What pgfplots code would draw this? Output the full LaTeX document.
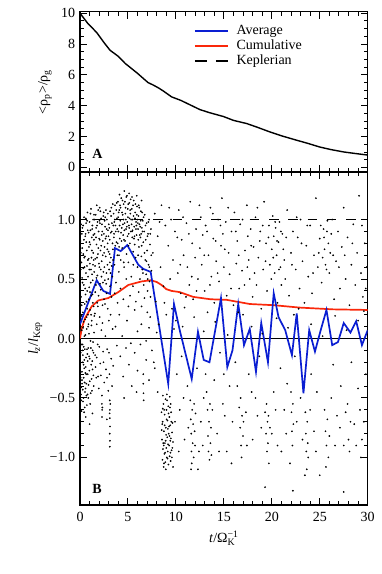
\documentclass[border=0pt]{standalone}
\usepackage{pgfplots}
\usepackage{pgfplotstable}
\pgfplotsset{compat=1.18}
\usepackage{amsmath}
\usepackage{fontspec}
\setmainfont{Liberation Serif}
\definecolor{avgblue}{RGB}{10,30,210}
\definecolor{cumred}{RGB}{250,40,10}

\pgfplotstableread[row sep=\\]{
t v\\
0 10.0\\ 0.8 9.35\\ 1.74 8.75\\ 2.5 8.1\\ 3.13 7.6\\ 4.0 7.2\\ 4.7 6.75\\ 5.4 6.4\\ 6.0 6.1\\ 6.6 5.77\\ 7.1 5.5\\ 7.64 5.34\\ 8.2 5.15\\ 8.7 4.95\\ 9.56 4.57\\ 10.5 4.35\\ 11.5 4.05\\ 12.5 3.75\\ 13.5 3.55\\ 14.95 3.3\\ 16.0 3.05\\ 17.4 2.84\\ 18.5 2.6\\ 19.8 2.3\\ 21.0 2.05\\ 22.6 1.76\\ 23.8 1.55\\ 25.0 1.32\\ 26.2 1.15\\ 27.5 1.0\\ 28.7 0.9\\ 30 0.8\\
}\densdata

\pgfplotstableread[row sep=\\]{
t v\\
0 0.12\\ 1.74 0.49\\ 2.43 0.40\\ 3.13 0.375\\ 3.65 0.76\\ 4.24 0.735\\ 4.93 0.785\\ 6.08 0.62\\ 6.6 0.585\\ 7.37 0.56\\ 9.2 -0.38\\ 9.8 0.29\\ 10.4 0.07\\ 11.65 -0.34\\ 12.3 0.056\\ 12.9 -0.18\\ 13.5 -0.20\\ 14.7 0.34\\ 15.36 -0.24\\ 15.9 -0.10\\ 16.5 0.29\\ 17.1 -0.056\\ 17.7 0.08\\ 18.35 -0.28\\ 18.9 0.13\\ 19.6 -0.20\\ 20.2 0.38\\ 20.7 0.18\\ 21.4 0.07\\ 22.1 -0.14\\ 22.6 0.21\\ 23.3 -0.46\\ 23.9 0.07\\ 24.5 -0.11\\ 25.1 0.07\\ 25.7 0.24\\ 26.3 -0.056\\ 26.9 -0.03\\ 27.5 0.13\\ 28.2 0.05\\ 28.8 0.145\\ 29.4 -0.056\\ 30 0.07\\
}\avgdata

\pgfplotstableread[row sep=\\]{
t v\\
0 0\\ 0.2 0.09\\ 0.52 0.17\\ 1.22 0.27\\ 1.91 0.32\\ 2.95 0.34\\ 3.99 0.39\\ 5.04 0.45\\ 6.43 0.48\\ 7.4 0.49\\ 8.0 0.475\\ 8.5 0.45\\ 9.0 0.415\\ 9.56 0.40\\ 10.4 0.39\\ 11.8 0.35\\ 13.6 0.33\\ 15.3 0.325\\ 17.7 0.29\\ 20.2 0.28\\ 22.9 0.26\\ 26.4 0.245\\ 30 0.24\\
}\cumdata

\pgfplotstableread[row sep=\\]{
t v\\
0.05 0.82\\ 0.08 -0.12\\ 0.1 0.35\\ 0.12 -0.41\\ 0.15 0.64\\ 0.18 0.07\\ 0.2 -0.28\\ 0.22 0.51\\ 0.25 0.93\\ 0.27 -0.05\\ 0.3 0.22\\ 0.31 -0.53\\ 0.34 0.71\\ 0.36 0.14\\ 0.38 -0.33\\ 0.4 0.45\\ 0.42 1.02\\ 0.45 -0.18\\ 0.47 0.6\\ 0.5 0.29\\ 0.52 -0.45\\ 0.55 0.86\\ 0.57 0.03\\ 0.6 -0.24\\ 0.62 0.55\\ 0.64 0.97\\ 0.66 -0.38\\ 0.69 0.18\\ 0.71 0.74\\ 0.73 -0.09\\ 0.75 0.4\\ 0.78 1.06\\ 0.8 -0.3\\ 0.82 0.66\\ 0.85 0.1\\ 0.87 -0.5\\ 0.9 0.89\\ 0.92 0.33\\ 0.95 -0.15\\ 0.97 0.58\\ 1.0 0.98\\ 1.02 -0.36\\ 1.05 0.24\\ 1.07 0.79\\ 1.1 -0.02\\ 1.12 0.47\\ 1.15 1.09\\ 1.17 -0.22\\ 1.2 0.68\\ 1.22 0.15\\ 1.25 -0.44\\ 1.27 0.92\\ 1.3 0.37\\ 1.32 -0.1\\ 1.35 0.62\\ 1.37 1.0\\ 1.4 -0.31\\ 1.42 0.27\\ 1.45 0.83\\ 1.47 0.05\\
0.07 0.58\\ 0.13 0.19\\ 0.16 -0.61\\ 0.23 0.76\\ 0.28 -0.2\\ 0.33 0.95\\ 0.39 -0.07\\ 0.44 0.68\\ 0.49 -0.58\\ 0.54 0.42\\ 0.59 0.88\\ 0.63 -0.16\\ 0.68 0.31\\ 0.74 0.99\\ 0.79 -0.47\\ 0.84 0.52\\ 0.88 0.12\\ 0.93 0.77\\ 0.98 -0.27\\ 1.03 0.63\\ 1.08 0.91\\ 1.13 -0.08\\ 1.18 0.36\\ 1.23 0.85\\ 1.28 -0.19\\ 1.33 0.49\\ 1.38 0.72\\ 1.43 -0.4\\ 1.48 0.56\\ 0.11 0.96\\ 0.21 -0.35\\ 0.32 0.09\\ 0.43 -0.62\\ 0.53 0.16\\ 0.65 0.81\\ 0.76 0.25\\ 0.86 -0.08\\ 0.96 0.43\\ 1.06 -0.55\\ 1.16 0.2\\ 1.26 0.54\\ 1.36 -0.03\\ 1.46 1.04\\ 0.6 -0.66\\ 1.0 -0.72\\ 1.3 -0.63\\
0.03 0.41\\ 0.06 -0.33\\ 0.09 0.72\\ 0.14 -0.52\\ 0.17 0.28\\ 0.19 0.88\\ 0.24 -0.1\\ 0.26 0.47\\ 0.29 -0.43\\ 0.35 0.59\\ 0.37 -0.22\\ 0.41 0.83\\ 0.46 0.02\\ 0.48 -0.37\\ 0.51 0.69\\ 0.56 -0.29\\ 0.58 0.37\\ 0.61 1.01\\ 0.67 -0.48\\ 0.7 0.08\\ 0.72 0.61\\ 0.77 -0.13\\ 0.81 0.91\\ 0.83 0.2\\ 0.89 -0.39\\ 0.91 0.67\\ 0.94 0.04\\ 0.99 0.81\\ 1.01 -0.17\\ 1.04 0.39\\ 1.09 1.05\\ 1.11 -0.46\\ 1.14 0.58\\ 1.19 0.11\\ 1.21 -0.34\\ 1.24 0.74\\ 1.29 0.95\\ 1.31 -0.26\\ 1.34 0.3\\ 1.39 0.87\\ 1.41 -0.12\\ 1.44 0.66\\ 1.49 0.19\\
0.04 -0.2\\ 0.1 -0.47\\ 0.16 -0.05\\ 0.22 -0.38\\ 0.3 -0.14\\ 0.37 -0.5\\ 0.44 -0.25\\ 0.5 -0.09\\ 0.58 -0.42\\ 0.65 -0.3\\ 0.72 -0.56\\ 0.8 -0.19\\
1.52 0.88\\ 1.55 0.21\\ 1.58 -0.14\\ 1.6 0.67\\ 1.63 1.04\\ 1.66 0.45\\ 1.69 -0.33\\ 1.72 0.79\\ 1.75 0.12\\ 1.78 0.95\\ 1.81 0.53\\ 1.84 -0.05\\ 1.87 0.71\\ 1.9 1.08\\ 1.93 0.36\\ 1.96 -0.42\\ 1.99 0.84\\ 2.02 0.6\\ 2.05 0.18\\ 2.08 0.97\\ 2.11 -0.21\\ 2.14 0.74\\ 2.17 0.41\\ 2.2 1.01\\ 2.23 0.07\\ 2.26 0.65\\ 2.29 -0.48\\ 2.32 0.9\\ 2.35 0.28\\ 2.38 0.82\\ 2.41 -0.11\\ 2.44 0.56\\ 2.47 1.06\\ 2.5 0.33\\ 2.53 -0.37\\ 2.56 0.77\\ 2.59 0.49\\ 2.62 0.94\\ 2.65 0.02\\ 2.68 0.69\\ 2.71 -0.26\\ 2.74 0.86\\ 2.77 0.38\\ 2.8 1.0\\ 2.83 -0.09\\ 2.86 0.62\\ 2.89 0.25\\ 2.92 0.91\\ 2.95 -0.44\\ 2.98 0.73\\ 3.01 0.15\\ 3.04 0.58\\ 3.07 -0.3\\ 3.1 0.83\\ 3.13 0.44\\ 3.16 -0.55\\ 3.19 0.2\\ 3.22 0.68\\ 3.25 -0.17\\ 3.28 0.35\\ 3.31 0.9\\ 3.34 -0.4\\ 3.37 0.52\\ 3.4 0.08\\ 3.43 0.75\\ 3.46 -0.23\\
1.57 0.61\\ 1.68 0.93\\ 1.79 0.3\\ 1.91 0.76\\ 2.03 0.99\\ 2.16 0.58\\ 2.27 0.87\\ 2.39 0.47\\ 2.51 0.72\\ 2.63 1.02\\ 2.76 0.55\\ 2.88 0.8\\ 3.0 0.96\\ 3.12 0.64\\ 3.24 1.03\\ 1.75 1.12\\ 2.05 1.1\\
1.53 1.0\\ 1.59 0.39\\ 1.62 -0.24\\ 1.67 0.85\\ 1.71 0.51\\ 1.74 -0.16\\ 1.77 0.68\\ 1.83 0.98\\ 1.86 0.27\\ 1.89 -0.32\\ 1.94 0.9\\ 1.97 0.63\\ 2.01 -0.07\\ 2.06 0.83\\ 2.09 0.46\\ 2.13 1.07\\ 2.18 -0.31\\ 2.21 0.78\\ 2.24 0.52\\ 2.29 0.96\\ 2.34 0.13\\ 2.37 0.7\\ 2.42 1.03\\ 2.45 -0.2\\ 2.49 0.88\\ 2.54 0.6\\ 2.57 0.99\\ 2.61 0.29\\ 2.66 0.84\\ 2.7 1.08\\ 2.73 0.46\\ 2.78 0.92\\ 2.82 -0.33\\ 2.85 0.75\\ 2.9 1.05\\ 2.94 0.5\\ 2.97 0.86\\ 3.02 -0.12\\ 3.06 0.93\\ 3.09 0.71\\ 3.14 1.07\\ 3.18 0.55\\ 3.21 0.89\\ 3.27 1.1\\ 3.3 0.61\\ 3.33 0.97\\ 3.39 0.8\\ 3.42 1.13\\ 3.45 0.66\\ 3.48 0.95\\
2.28 -0.55\\ 2.31 -0.6\\ 2.3 -0.66\\ 2.33 -0.58\\ 3.1 -0.52\\ 3.12 -0.6\\ 3.11 -0.67\\ 3.13 -0.74\\ 3.1 -0.8\\ 3.12 -0.86\\ 3.11 -0.91\\ 3.09 -0.63\\ 2.8 -0.68\\
3.5 1.05\\ 3.55 0.88\\ 3.6 0.62\\ 3.65 1.12\\ 3.7 0.95\\ 3.75 0.47\\ 3.8 0.81\\ 3.85 1.01\\ 3.9 0.7\\ 3.95 1.15\\ 4.0 0.9\\ 4.05 0.56\\ 4.1 1.08\\ 4.15 0.84\\ 4.2 0.99\\ 4.25 0.66\\ 4.3 1.18\\ 4.35 0.93\\ 4.4 0.76\\ 4.45 1.04\\ 4.5 0.87\\ 4.55 1.13\\ 4.6 0.6\\ 4.65 0.97\\ 4.7 0.82\\ 4.75 1.1\\ 4.8 0.92\\ 4.85 0.71\\ 4.9 1.2\\ 4.95 0.86\\ 5.0 1.02\\ 5.05 0.64\\ 5.1 0.95\\ 5.15 1.14\\ 5.2 0.8\\ 5.25 1.05\\ 5.3 0.9\\ 5.35 0.52\\ 5.4 1.09\\ 5.45 0.85\\ 5.5 1.0\\ 5.55 0.73\\ 5.6 1.16\\ 5.65 0.94\\ 5.7 0.79\\ 5.75 1.06\\ 5.8 0.68\\ 5.85 0.98\\ 5.9 0.87\\ 5.95 1.11\\ 6.0 0.6\\ 6.05 0.92\\ 6.1 1.03\\ 6.15 0.77\\ 6.2 0.96\\ 6.25 0.5\\ 6.3 0.85\\ 6.35 1.07\\ 6.4 0.69\\ 6.45 0.93\\ 6.5 0.58\\ 6.55 0.99\\ 6.6 0.81\\ 6.65 0.45\\ 6.7 0.9\\ 6.75 1.04\\ 6.8 0.66\\ 6.85 0.83\\ 6.9 0.54\\ 6.95 0.97\\ 7.0 0.74\\ 7.05 0.4\\ 7.1 0.88\\ 7.15 0.62\\ 7.2 1.0\\ 7.25 0.48\\ 7.3 0.79\\ 7.35 0.35\\ 7.4 0.92\\ 7.45 0.57\\
3.58 0.98\\ 3.68 0.78\\ 3.78 1.08\\ 3.88 0.92\\ 3.98 1.02\\ 4.08 0.77\\ 4.18 1.12\\ 4.28 0.89\\ 4.38 1.06\\ 4.48 0.96\\ 4.58 0.83\\ 4.68 1.15\\ 4.78 1.0\\ 4.88 0.94\\ 4.98 1.09\\ 5.08 0.88\\ 5.18 1.01\\ 5.28 1.17\\ 5.38 0.96\\ 5.48 0.91\\ 5.58 1.03\\ 5.68 0.86\\ 5.78 1.13\\ 5.88 0.95\\ 5.98 1.0\\ 6.08 0.83\\ 6.18 1.1\\ 6.28 0.94\\ 6.38 0.88\\ 6.48 1.06\\ 4.12 1.21\\ 4.62 1.24\\ 5.12 1.22\\ 5.42 1.19\\ 5.92 1.2\\ 6.42 1.16\\
3.53 0.85\\ 3.63 1.0\\ 3.73 0.9\\ 3.83 1.14\\ 3.93 0.8\\ 4.03 1.06\\ 4.13 0.95\\ 4.23 1.1\\ 4.33 0.82\\ 4.43 1.16\\ 4.53 1.0\\ 4.63 0.91\\ 4.73 1.05\\ 4.83 1.19\\ 4.93 0.98\\ 5.03 1.13\\ 5.13 0.93\\ 5.23 1.08\\ 5.33 1.0\\ 5.43 0.9\\ 5.53 1.12\\ 5.63 0.84\\ 5.73 1.01\\ 5.83 0.92\\ 5.93 1.04\\ 6.03 0.97\\ 6.13 1.12\\ 6.23 0.87\\ 6.33 0.99\\ 6.43 0.78\\ 6.53 0.9\\ 6.63 1.02\\ 6.73 0.72\\ 6.83 0.95\\ 6.93 0.65\\ 7.03 0.86\\ 7.13 0.98\\ 7.23 0.6\\ 7.33 0.88\\ 7.43 0.7\\ 4.06 0.7\\ 4.56 0.64\\ 5.06 0.78\\ 5.56 0.62\\ 6.06 0.7\\ 6.56 0.55\\ 7.06 0.5\\
3.62 0.38\\ 3.92 0.3\\ 4.22 0.42\\ 4.52 0.33\\ 4.82 0.5\\ 5.22 0.36\\ 5.52 0.44\\ 5.82 0.31\\ 6.12 0.39\\ 6.42 0.27\\ 6.72 0.34\\ 7.02 0.22\\ 7.32 0.18\\ 3.7 0.1\\ 4.1 0.2\\ 4.4 0.02\\ 4.9 0.15\\ 5.3 -0.04\\ 5.7 0.24\\ 6.0 0.06\\ 6.4 0.12\\ 6.9 -0.02\\ 7.2 0.09\\ 3.85 -0.06\\ 5.05 0.27\\
4.2 -0.15\\ 4.5 -0.32\\ 4.8 -0.08\\ 5.1 -0.22\\ 5.4 -0.4\\ 5.7 -0.12\\ 6.0 -0.27\\ 6.3 -0.05\\ 6.6 -0.38\\ 6.62 -0.46\\ 6.64 -0.52\\ 6.6 -0.3\\ 6.9 -0.18\\ 7.2 -0.35\\ 7.5 -0.1\\ 7.8 -0.25\\ 4.6 -0.5\\ 5.9 -0.45\\
8.5 -0.62\\ 8.55 -0.85\\ 8.6 -1.02\\ 8.62 -0.7\\ 8.65 -0.93\\ 8.7 -0.55\\ 8.72 -1.08\\ 8.75 -0.78\\ 8.8 -0.97\\ 8.82 -0.64\\ 8.85 -0.88\\ 8.9 -1.04\\ 8.92 -0.51\\ 8.95 -0.75\\ 9.0 -0.92\\ 9.02 -0.6\\ 9.05 -1.0\\ 9.1 -0.83\\ 9.12 -0.69\\ 9.15 -0.95\\ 9.2 -0.57\\ 9.22 -1.06\\ 9.25 -0.8\\ 9.3 -0.9\\ 9.32 -0.66\\ 9.35 -0.99\\ 9.4 -0.73\\ 9.42 -0.86\\ 9.45 -1.03\\ 9.5 -0.62\\ 9.55 -0.94\\ 9.6 -0.79\\ 9.65 -0.71\\ 9.7 -0.87\\ 8.58 -0.72\\ 8.68 -0.88\\ 8.78 -0.6\\ 8.88 -0.96\\ 8.98 -0.81\\ 9.08 -0.52\\ 9.18 -0.89\\ 9.28 -0.74\\ 9.38 -0.58\\ 9.48 -0.84\\ 9.58 -1.0\\ 8.64 -0.48\\ 9.06 -0.47\\ 9.36 -0.49\\ 9.7 -1.08\\ 8.95 -1.1\\
8.52 -0.77\\ 8.63 -0.59\\ 8.73 -0.9\\ 8.83 -0.73\\ 8.93 -0.86\\ 9.03 -0.68\\ 9.13 -1.01\\ 9.23 -0.63\\ 9.33 -0.82\\ 9.43 -0.96\\ 9.53 -0.7\\ 9.63 -0.92\\ 8.76 -1.05\\ 9.16 -0.76\\ 9.46 -0.55\\
7.6 0.72\\ 7.8 1.05\\ 7.9 0.31\\ 8.1 0.86\\ 8.2 0.12\\ 8.4 0.6\\ 8.5 1.12\\ 8.7 0.44\\ 8.9 0.95\\ 9.0 0.2\\ 9.2 0.78\\ 9.4 0.5\\ 9.5 1.0\\ 9.7 0.66\\ 9.9 0.9\\ 10.0 0.15\\ 10.2 0.55\\ 10.3 1.08\\ 10.5 0.38\\ 10.6 0.83\\ 10.8 0.7\\ 10.9 0.26\\ 11.1 0.97\\ 11.2 0.6\\ 11.4 0.45\\ 11.5 1.15\\ 11.7 0.8\\ 11.8 0.33\\ 12.0 0.68\\ 12.1 0.92\\ 12.3 0.5\\ 12.5 0.76\\ 12.6 1.02\\ 12.7 0.62\\ 12.8 0.87\\ 13.0 0.4\\ 13.1 0.95\\ 13.3 0.22\\ 13.4 0.7\\ 13.6 1.1\\ 13.7 0.52\\ 13.9 0.84\\ 14.0 0.3\\ 14.2 0.65\\ 14.4 1.0\\ 14.5 0.48\\ 14.7 0.78\\ 14.8 1.18\\ 14.9 0.88\\ 15.0 0.6\\ 15.2 0.98\\ 15.3 0.36\\ 15.5 0.72\\ 15.6 0.54\\ 15.8 0.9\\ 16.0 0.28\\ 16.1 1.06\\ 16.3 0.63\\ 16.4 0.82\\ 16.6 0.42\\ 16.7 0.96\\ 16.9 0.57\\ 17.0 0.2\\ 17.2 0.74\\ 17.4 1.12\\ 17.5 0.86\\ 17.6 0.66\\ 17.7 0.5\\ 17.8 0.92\\ 18.0 0.35\\ 18.1 0.77\\ 18.3 1.02\\ 18.4 0.45\\ 18.6 0.68\\ 18.8 0.9\\ 18.9 0.25\\ 19.1 0.58\\ 19.2 1.15\\ 19.4 0.8\\ 19.5 0.4\\ 19.7 0.95\\ 19.8 0.62\\ 20.0 0.75\\ 20.1 1.03\\ 20.2 0.86\\ 20.3 0.55\\ 20.4 0.93\\ 20.5 0.7\\ 20.6 0.3\\ 20.7 0.81\\ 20.8 0.98\\ 20.9 0.6\\ 21.0 0.45\\ 21.1 0.88\\ 21.3 0.66\\ 21.4 0.5\\ 21.6 1.08\\ 21.8 0.36\\ 22.0 0.72\\ 22.2 0.9\\ 22.3 0.2\\ 22.5 0.58\\ 22.7 0.85\\ 22.9 0.42\\ 23.0 1.0\\ 23.2 0.65\\ 23.4 0.3\\ 23.6 0.78\\ 23.8 0.52\\ 24.0 0.95\\ 24.2 0.38\\ 24.4 0.7\\ 24.6 1.18\\ 24.8 0.6\\ 25.0 0.84\\ 25.2 0.47\\ 25.4 0.92\\ 25.5 0.75\\ 25.6 0.62\\ 25.8 0.99\\ 25.9 0.8\\ 26.0 0.55\\ 26.2 0.88\\ 26.4 0.7\\ 26.5 0.33\\ 26.7 0.65\\ 26.9 0.9\\ 27.1 0.42\\ 27.3 0.77\\ 27.5 1.1\\ 27.7 0.5\\ 27.9 0.85\\ 28.1 0.28\\ 28.3 0.62\\ 28.5 0.96\\ 28.7 0.45\\ 28.9 0.72\\ 29.1 1.2\\ 29.3 0.55\\ 29.5 0.35\\ 29.7 0.8\\ 29.9 0.6\\
8.3 0.98\\ 8.8 0.3\\ 9.3 1.1\\ 9.6 0.25\\ 10.15 0.85\\ 10.45 0.62\\ 10.75 1.02\\ 11.05 0.35\\ 11.35 0.88\\ 11.65 0.52\\ 12.15 0.4\\ 12.45 1.12\\ 12.95 0.7\\ 13.25 0.9\\ 13.55 0.45\\ 13.85 1.05\\ 14.15 0.82\\ 14.35 0.55\\ 14.65 0.95\\ 15.1 0.75\\ 15.45 1.1\\ 15.75 0.42\\ 16.25 0.9\\ 16.55 0.7\\ 16.95 1.0\\ 17.15 0.45\\ 17.45 0.6\\ 17.85 0.78\\ 18.2 0.55\\ 18.5 1.1\\ 18.75 0.82\\ 19.05 0.95\\ 19.35 0.65\\ 19.65 0.85\\ 19.95 0.5\\ 20.15 0.68\\ 20.35 0.98\\ 20.55 0.82\\ 20.75 0.58\\ 20.95 0.9\\ 21.2 0.75\\ 21.5 0.85\\ 22.1 0.62\\ 22.6 1.02\\ 23.1 0.8\\ 23.7 0.95\\ 24.3 0.55\\ 24.9 0.72\\ 25.1 0.95\\ 25.3 0.68\\ 25.45 0.85\\ 25.7 0.58\\ 25.75 0.9\\ 26.1 0.72\\ 26.3 1.0\\ 27.0 0.6\\ 27.6 0.7\\ 28.4 0.8\\ 29.4 0.95\\ 29.8 0.42\\
8.0 0.05\\ 9.8 0.08\\ 10.7 0.1\\ 11.9 0.18\\ 12.9 0.06\\ 14.1 0.14\\ 15.4 0.03\\ 16.5 0.22\\ 17.9 0.1\\ 19.0 0.04\\ 20.5 0.17\\ 21.7 0.09\\ 22.8 0.25\\ 24.1 0.12\\ 25.3 0.02\\ 26.6 0.19\\ 27.8 0.07\\ 29.0 0.15\\ 29.6 0.23\\
7.7 -0.2\\ 8.1 -0.45\\ 10.1 -0.3\\ 10.4 -0.6\\ 10.6 -0.15\\ 10.9 -0.85\\ 11.2 -0.4\\ 12.2 -0.25\\ 12.6 -0.7\\ 12.9 -0.5\\ 14.0 -0.35\\ 14.3 -0.8\\ 14.6 -0.12\\ 14.9 -0.55\\ 15.3 -0.95\\ 15.6 -0.4\\ 15.9 -0.7\\ 16.2 -0.2\\ 17.3 -0.62\\ 17.6 -0.3\\ 18.0 -0.85\\ 18.3 -0.5\\ 18.7 -0.15\\ 18.9 -0.75\\ 20.2 -0.45\\ 20.6 -0.9\\ 20.9 -0.25\\ 21.3 -0.6\\ 21.6 -0.38\\ 21.9 -1.05\\ 22.4 -0.15\\ 23.0 -0.5\\ 24.1 -0.3\\ 24.4 -0.78\\ 24.7 -0.45\\ 25.0 -1.15\\ 26.4 -0.22\\ 26.8 -0.65\\ 27.2 -0.4\\ 27.5 -0.9\\ 27.9 -0.55\\ 28.3 -0.2\\ 28.6 -0.72\\ 29.0 -0.42\\ 29.4 -0.85\\ 29.8 -0.3\\ 19.3 -1.25\\ 22.2 -1.28\\ 27.5 -1.29\\
10.3 -0.95\\ 10.8 -0.5\\ 11.3 -0.75\\ 12.4 -0.95\\ 13.1 -0.3\\ 13.8 -0.6\\ 14.5 -0.95\\ 15.1 -0.65\\ 15.8 -1.05\\ 16.4 -0.4\\ 17.4 -0.9\\ 17.9 -0.45\\ 18.5 -0.65\\ 20.0 -0.8\\ 20.4 -0.6\\ 21.0 -0.95\\ 21.5 -0.8\\ 22.6 -0.7\\ 23.2 -0.85\\ 24.0 -0.6\\ 24.6 -0.95\\ 26.2 -0.5\\ 26.6 -0.9\\ 27.1 -0.75\\ 27.7 -0.62\\ 28.8 -0.9\\ 29.6 -0.7\\ 9.9 -0.7\\ 12.3 -1.1\\ 15.0 -0.3\\
11.5 -0.52\\ 11.55 -0.68\\ 11.6 -0.8\\ 11.62 -0.95\\ 11.65 -1.05\\ 11.7 -0.6\\ 11.75 -0.88\\ 11.8 -0.72\\ 11.85 -1.0\\ 11.9 -0.55\\ 12.0 -0.9\\ 11.58 -1.1\\ 11.95 -0.78\\ 12.05 -0.63\\
13.3 -0.6\\ 13.35 -0.82\\ 13.4 -0.95\\ 13.45 -0.7\\ 13.5 -1.02\\ 13.55 -0.55\\ 13.6 -0.88\\ 13.65 -0.75\\ 13.7 -0.98\\ 13.2 -0.45\\ 12.8 -0.9\\
16.6 -0.58\\ 16.7 -0.75\\ 16.8 -0.9\\ 16.9 -0.65\\ 17.0 -0.82\\ 16.75 -0.5\\ 16.85 -1.0\\ 17.05 -0.7\\
19.3 -0.62\\ 19.4 -0.8\\ 19.5 -0.95\\ 19.55 -0.7\\ 19.6 -0.88\\ 19.7 -1.05\\ 19.8 -0.75\\ 19.45 -0.55\\ 19.65 -0.65\\
22.0 -0.45\\ 22.05 -0.62\\ 22.1 -0.78\\ 22.15 -0.9\\ 22.2 -0.55\\ 22.25 -0.72\\
23.5 -0.62\\ 23.55 -0.8\\ 23.6 -0.95\\ 23.65 -1.1\\ 23.7 -0.7\\ 23.75 -0.88\\ 23.8 -1.0\\ 23.45 -1.15\\
25.5 -0.6\\ 25.6 -0.78\\ 25.7 -0.9\\ 25.8 -0.68\\ 25.9 -1.0\\ 26.0 -0.82\\ 25.65 -1.08\\
28.0 -0.85\\ 28.1 -0.95\\ 28.2 -0.7\\ 29.2 -0.6\\ 29.3 -1.0\\
}\dotdata

\begin{document}
\fontsize{14}{16}\selectfont
\begin{tikzpicture}
\path[use as bounding box] (0pt,0pt) rectangle (382pt,574pt);
\pgfplotsset{
  panel/.style={
    scale only axis, width=287.7pt, anchor=south west,
    xmin=0, xmax=30, xtick={0,5,...,30}, minor x tick num=4,
    tick align=inside, xtick pos=both, ytick pos=both,
    major tick length=7pt, minor tick length=4pt,
    axis line style={line width=1.1pt},
    major tick style={line width=1pt, black},
    minor tick style={line width=0.9pt, black},
    tick label style={font=\fontsize{14}{16}\selectfont},
    label style={font=\fontsize{14}{16}\selectfont},
    /pgf/number format/assume math mode=true,
    clip=true,
  }
}
% Panel A
\begin{axis}[panel, at={(80pt,402pt)}, height=160.3pt,
  ymin=-0.3, ymax=10.1, ytick={0,2,...,10}, minor y tick num=3,
  xticklabels={},
  ylabel={<ρ$_{\text{p}}$>/ρ$_{\text{g}}$},
  every axis y label/.style={at={(axis description cs:-0.122,0.5)}, rotate=90, anchor=center},
  legend style={draw=none, fill=none, at={(axis description cs:0.396,0.928)}, anchor=north west,
    font=\fontsize{14}{16}\selectfont, row sep=0pt, column sep=7pt, inner sep=0pt,
    nodes={inner sep=1pt, text height=10pt, text depth=3pt}},
  legend cell align=left,
  legend image code/.code={\draw[#1] (0pt,0pt) -- (33pt,0pt);},
]
\addplot[black, line width=1.4pt, forget plot] table[x=t, y=v] {\densdata};
\addlegendimage{avgblue, line width=1.4pt}
\addlegendentry{Average}
\addlegendimage{cumred, line width=1.4pt}
\addlegendentry{Cumulative}
\addlegendimage{black, line width=1.4pt, dash pattern=on 12pt off 9pt}
\addlegendentry{Keplerian}
\node[font=\bfseries\fontsize{14}{16}\selectfont] at (axis cs:1.82,0.88) {A};
\end{axis}
% Panel B
\begin{axis}[panel, at={(80pt,69pt)}, height=333pt,
  ymin=-1.4, ymax=1.4, ytick={-1,-0.5,0,0.5,1}, minor y tick num=4,
  yticklabels={−1.0,−0.5,0.0,0.5,1.0},
  xticklabels={0,5,10,15,20,25,30},
  xticklabel style={yshift=-2pt},
  ylabel={\textit{l}$_{\text{\textit{z}}}$/\textit{l}$_{\text{Kep}}$},
  every axis y label/.style={at={(axis description cs:-0.156,0.5)}, rotate=90, anchor=center},
  xlabel={\textit{t}/Ω$_{\text{K}}^{\text{−1}}$},
  every axis x label/.style={at={(axis description cs:0.5,-0.1)}, anchor=center},
]
\addplot[only marks, mark=*, mark size=0.65pt, mark options={draw=none, fill=black!80}] table[x=t, y=v] {\dotdata};
\addplot[black, line width=0.7pt] coordinates {(0,0) (30,0)};
\addplot[black, line width=1.4pt, dash pattern=on 9.5pt off 9.8pt, dash phase=4pt] coordinates {(0,1) (30,1)};
\addplot[cumred, line width=1.7pt] table[x=t, y=v] {\cumdata};
\addplot[avgblue, line width=1.7pt] table[x=t, y=v] {\avgdata};
\node[font=\bfseries\fontsize{14}{16}\selectfont] at (axis cs:1.77,-1.262) {B};
\end{axis}
\end{tikzpicture}
\end{document}
